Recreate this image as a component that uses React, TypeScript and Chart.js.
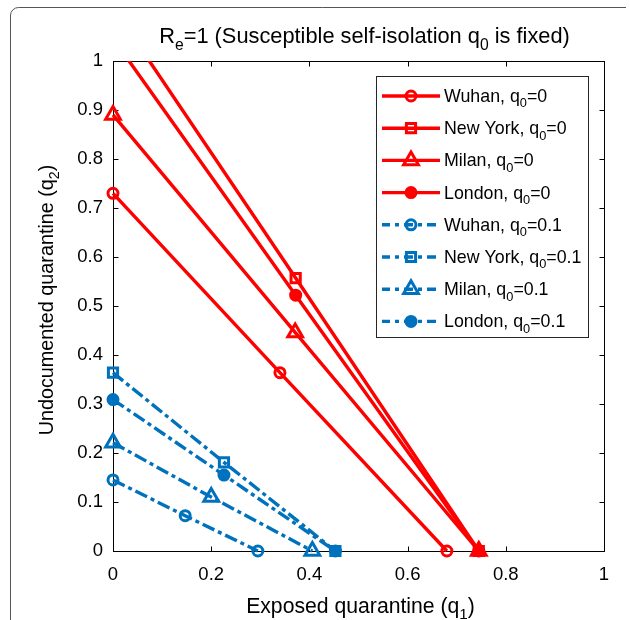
import React, { useEffect, useRef } from "react";
import { Chart, registerables } from "chart.js";

Chart.register(...registerables);

const FONT = '"Liberation Sans", Arial, Helvetica, sans-serif';
const RED = "#FF0000";
const BLUE = "#0072BD";

// axis ticks
const xTickValues = [0, 0.2, 0.4, 0.6, 0.8, 1];
const yTickValues = [0, 0.1, 0.2, 0.3, 0.4, 0.5, 0.6, 0.7, 0.8, 0.9, 1];

// q0 = 0 (x: exposed quarantine q1, y: undocumented quarantine q2)
const wuhan0X = [0, 0.34, 0.68];
const wuhan0Y = [0.73, 0.364, 0];
const newYork0X = [0, 0.372, 0.745];
const newYork0Y = [1.11, 0.557, 0];
const milan0X = [0, 0.371, 0.745];
const milan0Y = [0.89, 0.446, 0];
const london0X = [0, 0.372, 0.745];
const london0Y = [1.046, 0.522, 0];

// q0 = 0.1
const wuhan1X = [0, 0.147, 0.295];
const wuhan1Y = [0.145, 0.072, 0];
const newYork1X = [0, 0.226, 0.453];
const newYork1Y = [0.364, 0.181, 0];
const milan1X = [0, 0.2, 0.406];
const milan1Y = [0.221, 0.11, 0];
const london1X = [0, 0.226, 0.453];
const london1Y = [0.309, 0.155, 0];

type Part = { t: string; sub?: boolean };

const seriesInfo = [
  { name: "Wuhan", q0: "0", xs: wuhan0X, ys: wuhan0Y, color: RED, style: "circle", filled: false, dashed: false },
  { name: "New York", q0: "0", xs: newYork0X, ys: newYork0Y, color: RED, style: "rect", filled: false, dashed: false },
  { name: "Milan", q0: "0", xs: milan0X, ys: milan0Y, color: RED, style: "triangle", filled: false, dashed: false },
  { name: "London", q0: "0", xs: london0X, ys: london0Y, color: RED, style: "circle", filled: true, dashed: false },
  { name: "Wuhan", q0: "0.1", xs: wuhan1X, ys: wuhan1Y, color: BLUE, style: "circle", filled: false, dashed: true },
  { name: "New York", q0: "0.1", xs: newYork1X, ys: newYork1Y, color: BLUE, style: "rect", filled: false, dashed: true },
  { name: "Milan", q0: "0.1", xs: milan1X, ys: milan1Y, color: BLUE, style: "triangle", filled: false, dashed: true },
  { name: "London", q0: "0.1", xs: london1X, ys: london1Y, color: BLUE, style: "circle", filled: true, dashed: true },
];

const DASH = [13, 4, 4, 4];
const LINE_W = 3.4;
const MARK_BW = 3;

function radiusFor(style: string) {
  if (style === "rect") return 6.5;
  if (style === "triangle") return 8.5;
  return 5;
}

function measureRich(ctx: CanvasRenderingContext2D, parts: Part[], size: number) {
  let w = 0;
  for (const p of parts) {
    ctx.font = `${p.sub ? size * 0.72 : size}px ${FONT}`;
    w += ctx.measureText(p.t).width;
  }
  return w;
}

function drawRich(
  ctx: CanvasRenderingContext2D,
  parts: Part[],
  x: number,
  baseline: number,
  size: number,
  align: "left" | "center"
) {
  const w = measureRich(ctx, parts, size);
  let cx = align === "center" ? x - w / 2 : x;
  ctx.textAlign = "left";
  ctx.textBaseline = "alphabetic";
  ctx.fillStyle = "#000";
  for (const p of parts) {
    ctx.font = `${p.sub ? size * 0.72 : size}px ${FONT}`;
    ctx.fillText(p.t, cx, p.sub ? baseline + size * 0.3 : baseline);
    cx += ctx.measureText(p.t).width;
  }
}

function drawMarker(
  ctx: CanvasRenderingContext2D,
  style: string,
  x: number,
  y: number,
  r: number,
  color: string,
  filled: boolean
) {
  ctx.save();
  ctx.setLineDash([]);
  ctx.beginPath();
  if (style === "circle") {
    ctx.arc(x, y, r, 0, Math.PI * 2);
  } else if (style === "rect") {
    const s = Math.SQRT1_2 * r;
    ctx.rect(x - s, y - s, 2 * s, 2 * s);
  } else {
    const a = (2 * Math.PI) / 3;
    ctx.moveTo(x, y - r);
    ctx.lineTo(x + Math.sin(a) * r, y - Math.cos(a) * r);
    ctx.lineTo(x + Math.sin(2 * a) * r, y - Math.cos(2 * a) * r);
    ctx.closePath();
  }
  if (filled) {
    ctx.fillStyle = color;
    ctx.fill();
  }
  ctx.strokeStyle = color;
  ctx.lineWidth = MARK_BW;
  ctx.stroke();
  ctx.restore();
}

const decorPlugin = {
  id: "decor",
  beforeDraw(chart: any) {
    const ctx: CanvasRenderingContext2D = chart.ctx;
    ctx.save();
    ctx.fillStyle = "#fff";
    ctx.fillRect(0, 0, chart.width, chart.height);
    // outer rounded frame (cut at right and bottom)
    ctx.strokeStyle = "#555";
    ctx.lineWidth = 1;
    ctx.beginPath();
    ctx.moveTo(10.5, 640);
    ctx.lineTo(10.5, 15);
    ctx.arcTo(10.5, 7.5, 18.5, 7.5, 8);
    ctx.lineTo(626, 7.5);
    ctx.stroke();
    ctx.restore();
  },
  beforeDatasetsDraw(chart: any) {
    const ctx: CanvasRenderingContext2D = chart.ctx;
    const a = chart.chartArea;
    const xs = chart.scales.x;
    const ys = chart.scales.y;
    ctx.save();
    ctx.strokeStyle = "#000";
    ctx.lineWidth = 1;
    ctx.setLineDash([]);
    const L = Math.round(a.left) + 0.5;
    const R = Math.round(a.right) + 0.5;
    const T = Math.round(a.top) + 0.5;
    const B = Math.round(a.bottom) + 0.5;
    ctx.strokeRect(L, T, R - L, B - T);
    const tl = 5;
    ctx.beginPath();
    for (const v of xTickValues) {
      const px = Math.round(xs.getPixelForValue(v)) + 0.5;
      ctx.moveTo(px, B);
      ctx.lineTo(px, B - tl);
      ctx.moveTo(px, T);
      ctx.lineTo(px, T + tl);
    }
    for (const v of yTickValues) {
      const py = Math.round(ys.getPixelForValue(v)) + 0.5;
      ctx.moveTo(L, py);
      ctx.lineTo(L + tl, py);
      ctx.moveTo(R, py);
      ctx.lineTo(R - tl, py);
    }
    ctx.stroke();
    ctx.restore();
  },
  afterDraw(chart: any) {
    const ctx: CanvasRenderingContext2D = chart.ctx;
    const a = chart.chartArea;
    ctx.save();
    // title
    drawRich(
      ctx,
      [{ t: "R" }, { t: "e", sub: true }, { t: "=1 (Susceptible self-isolation q" }, { t: "0", sub: true }, { t: " is fixed)" }],
      (a.left + a.right) / 2 + 6,
      43,
      21.8,
      "center"
    );
    // x title
    drawRich(
      ctx,
      [{ t: "Exposed quarantine (q" }, { t: "1", sub: true }, { t: ")" }],
      (a.left + a.right) / 2 + 2,
      613,
      21.2,
      "center"
    );
    // y title
    ctx.save();
    ctx.translate(53, (a.top + a.bottom) / 2 - 6);
    ctx.rotate(-Math.PI / 2);
    drawRich(
      ctx,
      [{ t: "Undocumented quarantine (q" }, { t: "2", sub: true }, { t: ")" }],
      0,
      0,
      19.8,
      "center"
    );
    ctx.restore();

    // legend
    const lx = 376.5, ly = 76.5, lw = 212, lh = 261;
    ctx.fillStyle = "#fff";
    ctx.fillRect(lx, ly, lw, lh);
    ctx.strokeStyle = "#262626";
    ctx.lineWidth = 1;
    ctx.strokeRect(lx, ly, lw, lh);
    seriesInfo.forEach((s, i) => {
      const y = 96 + i * 32.2;
      ctx.save();
      ctx.strokeStyle = s.color;
      ctx.lineWidth = LINE_W;
      ctx.setLineDash(s.dashed ? [9, 5, 4, 5] : []);
      ctx.lineDashOffset = s.dashed ? 1 : 0;
      ctx.beginPath();
      ctx.moveTo(382, y);
      ctx.lineTo(440, y);
      ctx.stroke();
      ctx.restore();
      drawMarker(ctx, s.style, 411, y, radiusFor(s.style), s.color, s.filled);
      drawRich(
        ctx,
        [{ t: s.name + ", q" }, { t: "0", sub: true }, { t: "=" + s.q0 }],
        444,
        y + 6,
        17.8,
        "left"
      );
    });
    ctx.restore();
  },
};

export default function App() {
  const ref = useRef<HTMLCanvasElement | null>(null);
  useEffect(() => {
    document.documentElement.style.overflow = "hidden";
    document.body.style.overflow = "hidden";
    const canvas = ref.current!;
    const datasets = seriesInfo.map((s) => ({
      label: `${s.name}, q0=${s.q0}`,
      data: s.xs.map((x, i) => ({ x, y: s.ys[i] })),
      showLine: true,
      borderColor: s.color,
      borderWidth: LINE_W,
      borderDash: s.dashed ? DASH : [],
      borderCapStyle: "butt" as const,
      fill: false,
      tension: 0,
      pointStyle: s.style,
      pointRadius: radiusFor(s.style),
      pointHoverRadius: radiusFor(s.style),
      pointBorderWidth: MARK_BW,
      pointBorderColor: s.color,
      pointBackgroundColor: s.filled ? s.color : "rgba(0,0,0,0)",
      clip: { left: 20, right: 20, top: 0, bottom: 20 },
    }));
    const chart = new Chart(canvas, {
      type: "scatter",
      data: { datasets },
      options: {
        animation: false,
        responsive: false,
        devicePixelRatio: 1,
        events: [],
        layout: { padding: { left: 0, right: 26, top: 61, bottom: 0 } },
        plugins: {
          legend: { display: false },
          title: { display: false },
          tooltip: { enabled: false },
        },
        scales: {
          x: {
            type: "linear",
            min: 0,
            max: 1,
            grid: { display: false, drawTicks: false },
            border: { display: false },
            afterFit: (s: any) => {
              s.height = 69;
            },
            afterBuildTicks: (s: any) => {
              s.ticks = xTickValues.map((v) => ({ value: v }));
            },
            ticks: {
              padding: 13,
              color: "#000",
              font: { family: FONT, size: 18.5 },
              maxRotation: 0,
              callback: (v: any) => String(+Number(v).toFixed(1)),
            },
          },
          y: {
            type: "linear",
            min: 0,
            max: 1,
            grid: { display: false, drawTicks: false },
            border: { display: false },
            afterFit: (s: any) => {
              s.width = 113;
            },
            afterBuildTicks: (s: any) => {
              s.ticks = yTickValues.map((v) => ({ value: v }));
            },
            ticks: {
              padding: 10,
              color: "#000",
              font: { family: FONT, size: 18.5 },
              callback: (v: any) => String(+Number(v).toFixed(1)),
            },
          },
        },
      },
      plugins: [decorPlugin],
    } as any);
    return () => chart.destroy();
  }, []);
  return (
    <canvas
      ref={ref}
      width={630}
      height={620}
      style={{ position: "fixed", left: 0, top: 0, width: 630, height: 620 }}
    />
  );
}
